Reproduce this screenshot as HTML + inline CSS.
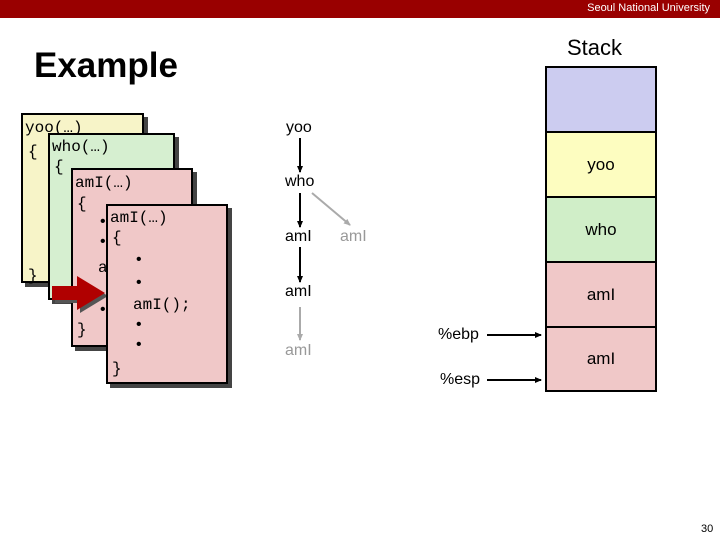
<!DOCTYPE html>
<html><head><style>
body{margin:0;width:720px;height:540px;position:relative;background:#fff;overflow:hidden;font-family:"Liberation Sans",sans-serif}
.hdr{position:absolute;left:0;top:0;width:720px;height:18px;background:#990000;color:#fff;font-size:11px;text-align:right;line-height:16px}
.hdr span{margin-right:10px}
.card{position:absolute;border:2px solid #000;box-shadow:4px 4px 0 #444;box-sizing:border-box}
.t{position:absolute;font-family:"Liberation Mono",monospace;font-size:16px;line-height:16px;color:#000;white-space:pre}
.s{position:absolute;font-size:16px;color:#000}
.g{color:#999}
.row{position:absolute;left:545px;width:112px;border:2px solid #000;box-sizing:border-box;text-align:center;font-size:17px}
</style></head><body>
<div class="hdr"><span>Seoul National University</span></div>
<div style="position:absolute;left:34px;top:46px;font-size:35px;font-weight:bold">Example</div>
<div style="position:absolute;left:567px;top:35px;font-size:22px">Stack</div>

<div class="card" style="left:21px;top:113px;width:123px;height:170px;background:#f7f4c8"></div>
<div class="t" style="left:25px;top:120px">yoo(…)</div>
<div class="t" style="left:28px;top:144px">{</div>
<div class="t" style="left:28px;top:268px">}</div>
<div class="card" style="left:48px;top:133px;width:127px;height:167px;background:#d6efd0"></div>
<div class="t" style="left:52px;top:139px">who(…)</div>
<div class="t" style="left:54px;top:159px">{</div>
<div class="card" style="left:71px;top:168px;width:122px;height:179px;background:#f0c8c8"></div>
<div class="t" style="left:75px;top:175px">amI(…)</div>
<div class="t" style="left:77px;top:196px">{</div>
<div class="t" style="left:98px;top:214px">•</div>
<div class="t" style="left:98px;top:234px">•</div>
<div class="t" style="left:98px;top:260px">a</div>
<div class="t" style="left:98px;top:302px">•</div>
<div class="t" style="left:77px;top:322px">}</div>
<svg style="position:absolute;left:50px;top:275px" width="65" height="40"><polygon points="5,14 30,14 30,4 58,21 30,38 30,28 5,28" fill="#555"/><polygon points="2,11 27,11 27,1 55,18 27,35 27,25 2,25" fill="#b00000"/></svg>
<div class="card" style="left:106px;top:204px;width:122px;height:180px;background:#f0c8c8"></div>
<div class="t" style="left:110px;top:210px">amI(…)</div>
<div class="t" style="left:112px;top:230px">{</div>
<div class="t" style="left:134px;top:252px">•</div>
<div class="t" style="left:134px;top:275px">•</div>
<div class="t" style="left:133px;top:297px">amI();</div>
<div class="t" style="left:134px;top:317px">•</div>
<div class="t" style="left:134px;top:337px">•</div>
<div class="t" style="left:112px;top:361px">}</div>

<div class="s" style="left:286px;top:119px">yoo</div>
<div class="s" style="left:285px;top:173px">who</div>
<div class="s" style="left:285px;top:228px">amI</div>
<div class="s g" style="left:340px;top:228px">amI</div>
<div class="s" style="left:285px;top:283px">amI</div>
<div class="s g" style="left:285px;top:342px">amI</div>
<svg style="position:absolute;left:0;top:0" width="720" height="540">
<defs><marker id="a" markerWidth="8" markerHeight="8" refX="6" refY="4" orient="auto" markerUnits="userSpaceOnUse"><polygon points="0,1 7,4 0,7" fill="#000"/></marker>
<marker id="b" markerWidth="8" markerHeight="8" refX="6" refY="4" orient="auto" markerUnits="userSpaceOnUse"><polygon points="0,1 7,4 0,7" fill="#aaa"/></marker></defs>
<g stroke="#000" stroke-width="2"><line x1="300" y1="138" x2="300" y2="172" marker-end="url(#a)"/><line x1="300" y1="193" x2="300" y2="227" marker-end="url(#a)"/><line x1="300" y1="247" x2="300" y2="282" marker-end="url(#a)"/>
<line x1="487" y1="335" x2="541" y2="335" marker-end="url(#a)"/><line x1="487" y1="380" x2="541" y2="380" marker-end="url(#a)"/></g>
<g stroke="#aaa" stroke-width="2"><line x1="312" y1="193" x2="350" y2="225" marker-end="url(#b)"/><line x1="300" y1="307" x2="300" y2="340" marker-end="url(#b)"/></g>
</svg>
<div class="s" style="left:438px;top:326px">%ebp</div>
<div class="s" style="left:440px;top:371px">%esp</div>

<div class="row" style="top:66px;height:67px;background:#ccccf0"></div>
<div class="row" style="top:131px;height:67px;background:#fdfdc0;line-height:63px">yoo</div>
<div class="row" style="top:196px;height:67px;background:#d0eec8;line-height:63px">who</div>
<div class="row" style="top:261px;height:67px;background:#f0c8c8;line-height:63px">amI</div>
<div class="row" style="top:326px;height:66px;background:#f0c8c8;line-height:62px">amI</div>
<div style="position:absolute;left:701px;top:523px;font-size:11px">30</div>
</body></html>
